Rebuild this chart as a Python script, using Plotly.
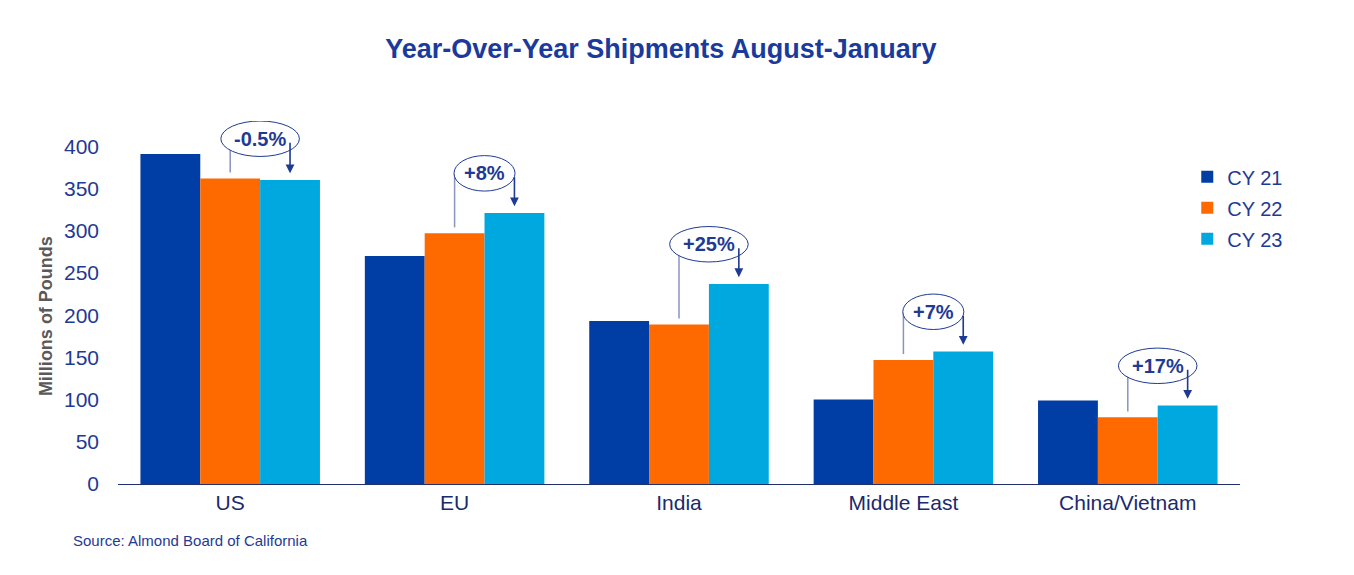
import plotly.graph_objects as go

regions = ['US', 'EU', 'India', 'Middle East', 'China/Vietnam']
cy21 = [391, 270, 193, 100, 99]
cy22 = [362, 297, 189, 147, 79]
cy23 = [360, 321, 237, 157, 93]
changes = ['-0.5%', '+8%', '+25%', '+7%', '+17%']

NAVY = '#1f3a93'
series = [('CY 21', cy21, '#003da5'),
          ('CY 22', cy22, '#ff6a00'),
          ('CY 23', cy23, '#00a8e0')]

fig = go.Figure()
for name, vals, col in series:
    fig.add_trace(go.Bar(name=name, x=regions, y=vals, marker_color=col,
                         marker_line_width=0, legendgroup=name))

# callouts: ellipse with % change, line from CY22 bar, arrow to CY23 bar
bw = 0.8 / 3
shapes = []
annotations = []
for i, lab in enumerate(changes):
    cy = max(cy22[i], cy23[i]) + 47
    cx = i + bw / 2
    half_w = 0.175 if len(lab) > 3 else 0.136
    half_h = 21
    shapes.append(dict(type='line', xref='x', yref='y', x0=i, x1=i,
                       y0=cy, y1=cy22[i] + 7,
                       line=dict(color='#8a93c2', width=1.5)))
    shapes.append(dict(type='circle', xref='x', yref='y',
                       x0=cx - half_w, x1=cx + half_w,
                       y0=cy - half_h, y1=cy + half_h,
                       fillcolor='white', line=dict(color=NAVY, width=1)))
    annotations.append(dict(x=i + bw, y=cy23[i] + 8, ax=i + bw, ay=cy - 3,
                            xref='x', yref='y', axref='x', ayref='y',
                            text='', showarrow=True, arrowhead=2,
                            arrowsize=1.1, arrowwidth=1.6, arrowcolor=NAVY))
    annotations.append(dict(x=cx, y=cy, xref='x', yref='y', text='<b>%s</b>' % lab,
                            showarrow=False,
                            font=dict(size=20, color=NAVY)))

annotations.append(dict(text='Source: Almond Board of California', showarrow=False,
                        xref='paper', yref='paper', x=-0.042, y=-0.155,
                        xanchor='left', yanchor='middle',
                        font=dict(size=15, color=NAVY)))
# y axis title sits a little below the middle of the axis
annotations.append(dict(text='<b>Millions of Pounds</b>', showarrow=False,
                        textangle=-90, xref='paper', yref='paper',
                        x=-0.064, y=0.463, xanchor='center', yanchor='middle',
                        font=dict(size=18, color='#595959')))

# page body adds an 8px margin, so size the figure to fit the window
fig.update_layout(
    width=1346, height=567,
    margin=dict(l=110, r=114, t=113, b=91),
    paper_bgcolor='white', plot_bgcolor='white',
    font=dict(family='Liberation Sans, Arial, sans-serif', color=NAVY),
    title=dict(text='<b>Year-Over-Year Shipments August-January</b>',
               x=0.485, xanchor='center', y=0.928, yanchor='middle',
               font=dict(size=27, color='#1a3a9c')),
    barmode='group', bargap=0.2, bargroupgap=0,
    showlegend=True,
    legend=dict(x=0.953, xanchor='left', y=0.9, yanchor='top',
                font=dict(size=20, color=NAVY), tracegroupgap=2,
                itemwidth=30, bgcolor='rgba(0,0,0,0)'),
    shapes=shapes, annotations=annotations,
)
fig.update_xaxes(showline=True, linecolor='#1f2f6e', linewidth=1.2,
                 showgrid=False, ticks='', tickfont=dict(size=21, color='#1a2a6c'))
fig.update_yaxes(range=[0, 430], dtick=50, showgrid=False, zeroline=False,
                 showline=False, ticks='', ticklabelstandoff=18,
                 tickfont=dict(size=21, color=NAVY))

fig.write_html('out.html')
